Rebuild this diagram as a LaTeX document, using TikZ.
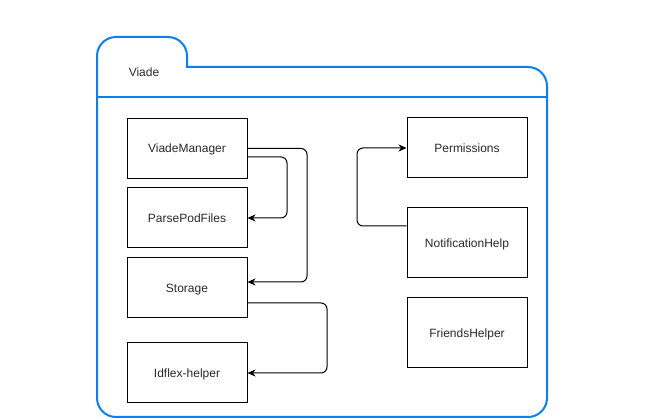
\documentclass[tikz,border=0pt]{standalone}
\usepackage{fontspec}
\setmainfont{Liberation Sans}
\usetikzlibrary{arrows.meta}
\definecolor{folderblue}{RGB}{10,128,240}
\definecolor{txt}{RGB}{40,40,40}
\begin{document}
\begin{tikzpicture}[x=1pt,y=-1pt,
  folder/.style={draw=folderblue,line width=2pt},
  cls/.style={draw=black,line width=1pt,minimum width=120pt,minimum height=60pt,inner sep=0pt,text height=9pt,text depth=0pt,font=\fontsize{12pt}{14pt}\selectfont,text=txt},
  conn/.style={draw=black,line width=1pt,rounded corners=6pt,-{Stealth[length=8pt,width=7pt,inset=2.5pt]}}]
\useasboundingbox (0,0) rectangle (659,419);
\draw[folder,rounded corners=19pt] (187,67) -- (187,37) -- (97,37) -- (97,417) -- (547,417) -- (547,67) -- (186,67);
\draw[folder] (97,97) -- (547,97);
\node[font=\fontsize{12pt}{14pt}\selectfont,text=txt,text height=9pt,text depth=0pt] (lbl) at (144,72) {Viade};
\node[cls] (vm) at (187,148.5) {ViadeManager};
\node[cls] (ppf) at (187,218) {ParsePodFiles};
\node[cls] (st) at (187,288) {Storage};
\node[cls] (idf) at (187,373) {Idflex-helper};
\node[cls] (perm) at (467,148) {Permissions};
\node[cls,minimum height=70pt] (nh) at (467,243) {NotificationHelp};
\node[cls,minimum height=70pt] (fh) at (467,333) {FriendsHelper};
\coordinate (c1) at (287,218);
\coordinate (c2) at (307,282);
\coordinate (c3) at (327,373);
\coordinate (c4) at (357,148);
\draw[conn] ([yshift=-8.5pt]vm.east) -| (c1) -- (ppf.east);
\draw[conn] (vm.east) -| (c2) -- ([yshift=6pt]st.east);
\draw[conn] ([yshift=-15pt]st.east) -| (c3) -- (idf.east);
\draw[conn] ([yshift=17pt]nh.west) -| (c4) -- (perm.west);
\end{tikzpicture}
\end{document}
